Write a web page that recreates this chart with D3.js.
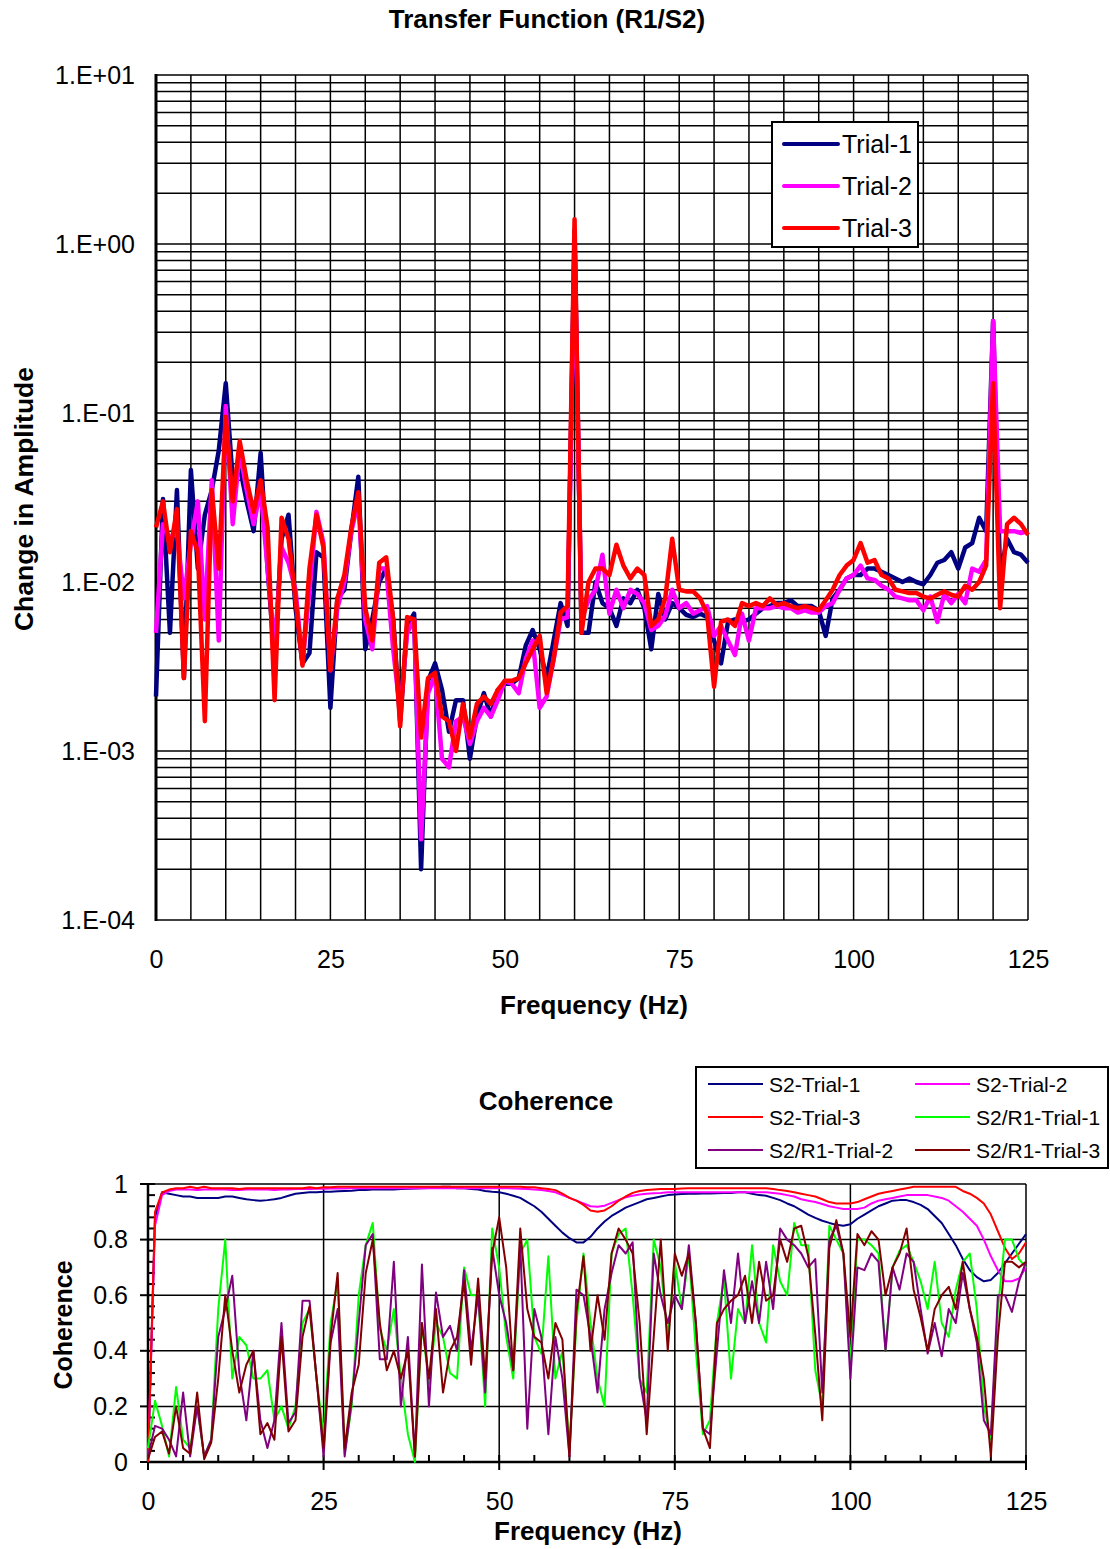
<!DOCTYPE html>
<html>
<head>
<meta charset="utf-8">
<script src="https://cdn.jsdelivr.net/npm/d3@7"></script>
<style>
  body { margin: 0; background: #fff; }
  svg { display: block; font-family: "Liberation Sans", Arial, sans-serif; }
</style>
</head>
<body>
<svg id="vis" width="1110" height="1549"></svg>
<script>
// ---- data: frequency in Hz, one reading per Hz ----
const freq = d3.range(0, 126);

// transfer function R1/S2
const trial1 = [
  0.0021, 0.031, 0.005, 0.035, 0.0027, 0.046, 0.012, 0.025, 0.035, 0.06,
  0.15, 0.04, 0.048, 0.03, 0.02, 0.058, 0.012, 0.0035, 0.018, 0.025,
  0.007, 0.0033, 0.0038, 0.015, 0.014, 0.0018, 0.008, 0.009, 0.02, 0.042,
  0.004, 0.006, 0.01, 0.012, 0.006, 0.0015, 0.0055, 0.0065, 0.0002, 0.0026,
  0.0033, 0.0023, 0.0013, 0.002, 0.002, 0.0009, 0.0016, 0.0022, 0.0016, 0.0023,
  0.0025, 0.0025, 0.0027, 0.0042, 0.0052, 0.004, 0.0027, 0.0045, 0.0075, 0.0055,
  1.2, 0.005, 0.005, 0.01, 0.0075, 0.007, 0.0055, 0.008, 0.0075, 0.009,
  0.007, 0.004, 0.0085, 0.006, 0.0075, 0.007, 0.0064, 0.0062, 0.0065, 0.0062,
  0.0045, 0.0033, 0.0058, 0.006, 0.0058, 0.006, 0.0065, 0.007, 0.0072, 0.0075,
  0.0075, 0.0078, 0.0072, 0.0072, 0.0072, 0.0068, 0.0048, 0.008, 0.009, 0.0105,
  0.011, 0.011, 0.012, 0.012, 0.0115, 0.011, 0.0105, 0.01, 0.0105, 0.01,
  0.0097, 0.011, 0.013, 0.0135, 0.015, 0.012, 0.016, 0.017, 0.024, 0.02,
  0.35, 0.011, 0.018, 0.015, 0.0145, 0.013
];
const trial2 = [
  0.005, 0.022, 0.018, 0.02, 0.008, 0.017, 0.03, 0.006, 0.04, 0.0045,
  0.11, 0.022, 0.06, 0.035, 0.022, 0.035, 0.012, 0.004, 0.016, 0.013,
  0.009, 0.0033, 0.009, 0.026, 0.017, 0.003, 0.007, 0.01, 0.02, 0.03,
  0.006, 0.004, 0.012, 0.012, 0.004, 0.0017, 0.005, 0.006, 0.0003, 0.0022,
  0.0028, 0.0009, 0.0008, 0.0015, 0.0016, 0.0011, 0.0015, 0.0018, 0.0016, 0.002,
  0.0026, 0.0025, 0.0022, 0.0035, 0.0045, 0.0018, 0.0021, 0.0035, 0.006, 0.0062,
  1.0, 0.006, 0.0078, 0.009, 0.0145, 0.0065, 0.009, 0.007, 0.009, 0.0085,
  0.0075, 0.0052, 0.0055, 0.0063, 0.009, 0.007, 0.0075, 0.0065, 0.0068, 0.0072,
  0.0048, 0.0055, 0.0045, 0.0037, 0.0065, 0.0045, 0.007, 0.007, 0.007, 0.0072,
  0.007, 0.007, 0.0066, 0.0068, 0.0066, 0.0066, 0.0072, 0.0075, 0.009, 0.0105,
  0.011, 0.0125, 0.0105, 0.0103, 0.0095, 0.009, 0.0082, 0.008, 0.0078, 0.0078,
  0.0068, 0.0082, 0.0058, 0.0085, 0.0075, 0.0085, 0.0075, 0.012, 0.0115, 0.0135,
  0.35, 0.02, 0.02, 0.02, 0.0195, 0.02
];
const trial3 = [
  0.021, 0.03, 0.015, 0.027, 0.0027, 0.02, 0.015, 0.0015, 0.035, 0.012,
  0.095, 0.03, 0.068, 0.04, 0.026, 0.04, 0.021, 0.002, 0.024, 0.018,
  0.008, 0.0032, 0.012, 0.025, 0.016, 0.003, 0.008, 0.011, 0.021, 0.034,
  0.007, 0.0045, 0.013, 0.014, 0.006, 0.0014, 0.0062, 0.006, 0.0012, 0.0027,
  0.0029, 0.0016, 0.0015, 0.001, 0.0019, 0.0012, 0.0019, 0.0021, 0.0019, 0.0023,
  0.0026, 0.0026, 0.0027, 0.0033, 0.004, 0.0048, 0.0022, 0.0035, 0.0066, 0.0072,
  1.4, 0.005, 0.01, 0.012, 0.012, 0.011, 0.0166, 0.0125, 0.0105, 0.012,
  0.011, 0.0055, 0.006, 0.008, 0.018, 0.009, 0.0088, 0.0088, 0.008, 0.0065,
  0.0024, 0.0058, 0.006, 0.0055, 0.0075, 0.0072, 0.0075, 0.0072, 0.008, 0.0073,
  0.0075, 0.0072, 0.007, 0.0072, 0.007, 0.0068, 0.0078, 0.009, 0.011, 0.0125,
  0.0135, 0.017, 0.013, 0.0135, 0.011, 0.0105, 0.009, 0.0088, 0.0086, 0.0086,
  0.0082, 0.008, 0.0084, 0.0088, 0.0084, 0.0082, 0.0095, 0.009, 0.01, 0.0125,
  0.15, 0.007, 0.022, 0.024, 0.022, 0.019
];

// coherence
const s2Trial1 = [
  0, 0.88, 0.97, 0.965, 0.96, 0.955, 0.955, 0.95, 0.95, 0.95,
  0.95, 0.955, 0.955, 0.95, 0.945, 0.942, 0.94, 0.942, 0.945, 0.95,
  0.958, 0.965, 0.968, 0.97, 0.97, 0.972, 0.972, 0.974, 0.975, 0.976,
  0.978, 0.978, 0.98, 0.98, 0.98, 0.98, 0.982, 0.983, 0.984, 0.985,
  0.986, 0.988, 0.99, 0.99, 0.985, 0.985, 0.982, 0.98, 0.975, 0.972,
  0.97, 0.965, 0.958, 0.95, 0.935, 0.92, 0.9, 0.875, 0.85, 0.825,
  0.805, 0.79, 0.79, 0.81, 0.84, 0.865, 0.885, 0.9, 0.915, 0.925,
  0.935, 0.945, 0.95, 0.955, 0.96, 0.962, 0.964, 0.965, 0.965, 0.966,
  0.966, 0.967, 0.968, 0.968, 0.97, 0.97, 0.965, 0.96, 0.958, 0.95,
  0.942, 0.93, 0.92, 0.905, 0.89, 0.878, 0.868, 0.86, 0.853, 0.85,
  0.855, 0.875, 0.89, 0.905, 0.92, 0.93, 0.94, 0.942, 0.942, 0.935,
  0.925, 0.91, 0.885, 0.86, 0.82, 0.78, 0.73, 0.69, 0.665, 0.65,
  0.655, 0.68, 0.715, 0.75, 0.785, 0.82
];
const s2Trial2 = [
  0, 0.85, 0.96, 0.975, 0.98, 0.98, 0.98, 0.978, 0.98, 0.98,
  0.98, 0.98, 0.978, 0.978, 0.98, 0.98, 0.98, 0.98, 0.978, 0.98,
  0.98, 0.982, 0.982, 0.982, 0.983, 0.983, 0.984, 0.984, 0.984, 0.985,
  0.985, 0.985, 0.985, 0.985, 0.985, 0.985, 0.985, 0.985, 0.985, 0.985,
  0.985, 0.985, 0.985, 0.985, 0.985, 0.985, 0.985, 0.985, 0.985, 0.985,
  0.985, 0.985, 0.984, 0.983, 0.982, 0.98, 0.978, 0.975, 0.97, 0.96,
  0.95, 0.94, 0.93, 0.92, 0.918, 0.922, 0.932, 0.942, 0.952, 0.958,
  0.962, 0.965, 0.967, 0.968, 0.97, 0.97, 0.97, 0.97, 0.97, 0.97,
  0.97, 0.97, 0.97, 0.97, 0.97, 0.97, 0.97, 0.97, 0.97, 0.968,
  0.965, 0.96, 0.955, 0.945, 0.94, 0.935, 0.928, 0.92, 0.915, 0.91,
  0.91, 0.91, 0.915, 0.93, 0.94, 0.945, 0.95, 0.955, 0.96, 0.96,
  0.96, 0.96, 0.955, 0.95, 0.94, 0.92, 0.9, 0.875, 0.85, 0.8,
  0.74, 0.69, 0.65, 0.65, 0.66, 0.7
];
const s2Trial3 = [
  0, 0.9, 0.97, 0.98, 0.985, 0.985, 0.99, 0.985, 0.99, 0.985,
  0.985, 0.985, 0.985, 0.982, 0.985, 0.985, 0.985, 0.985, 0.985, 0.985,
  0.985, 0.985, 0.985, 0.988, 0.985, 0.988, 0.988, 0.99, 0.99, 0.99,
  0.99, 0.99, 0.99, 0.99, 0.99, 0.99, 0.99, 0.99, 0.99, 0.99,
  0.99, 0.99, 0.99, 0.99, 0.99, 0.99, 0.99, 0.99, 0.99, 0.99,
  0.99, 0.99, 0.99, 0.99, 0.988, 0.988, 0.985, 0.982, 0.978, 0.965,
  0.95, 0.94, 0.925, 0.905, 0.9, 0.905, 0.92, 0.94, 0.955, 0.968,
  0.975, 0.978, 0.98, 0.982, 0.982, 0.982, 0.984, 0.985, 0.985, 0.985,
  0.985, 0.985, 0.985, 0.985, 0.985, 0.985, 0.985, 0.985, 0.985, 0.982,
  0.978, 0.975, 0.97, 0.965, 0.96, 0.955, 0.945, 0.935, 0.93, 0.93,
  0.93, 0.935, 0.945, 0.955, 0.965, 0.97, 0.975, 0.98, 0.985, 0.99,
  0.99, 0.99, 0.99, 0.99, 0.99, 0.99, 0.975, 0.965, 0.95, 0.93,
  0.89, 0.83, 0.77, 0.73, 0.75, 0.79
];
const r1Trial1 = [
  0.05, 0.22, 0.13, 0.02, 0.27, 0.08, 0.05, 0.2, 0.02, 0.08,
  0.55, 0.8, 0.3, 0.45, 0.42, 0.3, 0.3, 0.33, 0.15, 0.2,
  0.12, 0.2, 0.5, 0.55, 0.3, 0.1, 0.5, 0.65, 0.03, 0.2,
  0.6, 0.78, 0.86, 0.48, 0.4, 0.55, 0.3, 0.1, 0.0, 0.5,
  0.28, 0.5, 0.45, 0.32, 0.3, 0.7, 0.6, 0.6, 0.2, 0.84,
  0.7, 0.45, 0.3, 0.75, 0.8, 0.45, 0.39, 0.74, 0.3, 0.4,
  0.05, 0.5, 0.75, 0.5, 0.3, 0.2, 0.75, 0.82, 0.84, 0.6,
  0.3, 0.25, 0.8, 0.7, 0.45, 0.72, 0.55, 0.75, 0.4, 0.1,
  0.15, 0.5, 0.66, 0.3, 0.55, 0.5, 0.78, 0.5, 0.43, 0.78,
  0.65, 0.6, 0.86, 0.78, 0.78, 0.33, 0.2, 0.85, 0.8, 0.75,
  0.35, 0.8, 0.8, 0.78, 0.75, 0.4, 0.7, 0.76, 0.78, 0.72,
  0.65, 0.55, 0.72, 0.5, 0.45, 0.62, 0.72, 0.75, 0.55, 0.2,
  0.08, 0.55, 0.8, 0.8, 0.73, 0.7
];
const r1Trial2 = [
  0.02, 0.13, 0.12, 0.08, 0.02, 0.25, 0.02, 0.2, 0.02, 0.08,
  0.45, 0.55, 0.67, 0.32, 0.15, 0.4, 0.15, 0.05, 0.15, 0.5,
  0.14, 0.18, 0.58, 0.58, 0.3, 0.02, 0.43, 0.55, 0.02, 0.22,
  0.5, 0.78, 0.82, 0.37, 0.37, 0.72, 0.2, 0.45, 0.02, 0.71,
  0.2, 0.61, 0.45, 0.49, 0.4, 0.69, 0.4, 0.6, 0.25, 0.77,
  0.6, 0.5, 0.33, 0.78, 0.12, 0.55, 0.45, 0.1, 0.45, 0.3,
  0.02, 0.62, 0.6, 0.45, 0.25, 0.55, 0.68, 0.78, 0.75, 0.79,
  0.3, 0.15, 0.75, 0.6, 0.5, 0.6, 0.55, 0.78, 0.5, 0.12,
  0.1, 0.4, 0.69, 0.5, 0.75, 0.5, 0.65, 0.5, 0.72, 0.55,
  0.84, 0.8, 0.78, 0.75, 0.7, 0.73, 0.25, 0.8, 0.85, 0.75,
  0.3, 0.7, 0.69, 0.75, 0.72, 0.4, 0.7, 0.62, 0.75, 0.72,
  0.55, 0.39, 0.5, 0.38, 0.55, 0.5, 0.68, 0.55, 0.43, 0.15,
  0.1, 0.6, 0.6, 0.54, 0.65, 0.72
];
const r1Trial3 = [
  0.01, 0.09, 0.11, 0.03, 0.2, 0.05, 0.03, 0.25, 0.01, 0.07,
  0.3, 0.6, 0.4, 0.25, 0.35, 0.4, 0.1, 0.14, 0.08, 0.45,
  0.11, 0.15, 0.45, 0.56, 0.3, 0.05, 0.45, 0.68, 0.05, 0.25,
  0.35, 0.68, 0.8, 0.5, 0.33, 0.4, 0.3, 0.4, 0.02, 0.5,
  0.3, 0.55, 0.25, 0.4, 0.45, 0.65, 0.35, 0.66, 0.3, 0.75,
  0.88, 0.7, 0.33, 0.84, 0.55, 0.45, 0.43, 0.3, 0.5, 0.44,
  0.02, 0.54, 0.74, 0.4, 0.6, 0.44, 0.75, 0.84, 0.8, 0.75,
  0.5, 0.1, 0.45, 0.8, 0.4, 0.75, 0.67, 0.75, 0.5, 0.12,
  0.05, 0.5, 0.55, 0.58, 0.6, 0.67, 0.5, 0.72, 0.58, 0.6,
  0.8, 0.72, 0.84, 0.85, 0.74, 0.46, 0.15, 0.77, 0.87, 0.75,
  0.45, 0.82, 0.78, 0.83, 0.8, 0.6, 0.7, 0.75, 0.84, 0.62,
  0.52, 0.4, 0.55, 0.6, 0.63, 0.55, 0.72, 0.55, 0.45, 0.3,
  0.02, 0.45, 0.72, 0.72, 0.7, 0.72
];

const tfNames = ["Trial-1", "Trial-2", "Trial-3"];
const cohNames = ["S2-Trial-1", "S2-Trial-2", "S2-Trial-3", "S2/R1-Trial-1", "S2/R1-Trial-2", "S2/R1-Trial-3"];

const tfColors = ["#000080", "#ff00ff", "#ff0000"];
const cohColors = ["#000080", "#ff00ff", "#ff0000", "#00ff00", "#800080", "#800000"];

const svg = d3.select("#vis");
svg.append("rect").attr("width", 1110).attr("height", 1549).attr("fill", "#fff");

const tickFont = g => g.selectAll("text")
  .attr("font-size", 25)
  .attr("font-family", "Liberation Sans, Arial")
  .attr("fill", "#000");

// ================= transfer function =================
const tf = {left: 156, right: 1028, top: 75, bottom: 920};
const x1 = d3.scaleLinear().domain([0, 125]).range([tf.left, tf.right]);
const y1 = d3.scaleLog().domain([1e-4, 10]).range([tf.bottom, tf.top]);

const g1 = svg.append("g");

g1.append("g").selectAll("line")
  .data(y1.ticks())
  .join("line")
  .attr("x1", tf.left).attr("x2", tf.right)
  .attr("y1", d => y1(d)).attr("y2", d => y1(d))
  .attr("stroke", "#000").attr("stroke-width", 1.5);

g1.append("g").selectAll("line")
  .data(d3.range(0, 126, 5))
  .join("line")
  .attr("x1", d => x1(d)).attr("x2", d => x1(d))
  .attr("y1", tf.top).attr("y2", tf.bottom)
  .attr("stroke", "#000").attr("stroke-width", 1.5);

g1.append("line")
  .attr("x1", tf.left).attr("x2", tf.left)
  .attr("y1", tf.top - 1).attr("y2", tf.bottom + 1)
  .attr("stroke", "#000").attr("stroke-width", 3);

const expLabel = d => {
  const e = Math.round(Math.log10(d));
  return "1.E" + (e < 0 ? "-" : "+") + String(Math.abs(e)).padStart(2, "0");
};

g1.append("g")
  .attr("transform", `translate(${tf.left},0)`)
  .call(d3.axisLeft(y1).tickValues([1e-4, 1e-3, 1e-2, 1e-1, 1, 10]).tickFormat(expLabel).tickSize(0).tickPadding(21))
  .call(g => g.select(".domain").remove())
  .call(tickFont);

g1.append("g")
  .attr("transform", `translate(0,${tf.bottom})`)
  .call(d3.axisBottom(x1).tickValues([0, 25, 50, 75, 100, 125]).tickSize(0).tickPadding(30))
  .call(g => g.select(".domain").remove())
  .call(tickFont);

const tfLine = d3.line()
  .x((d, i) => x1(freq[i]))
  .y(d => y1(d));

g1.append("g").selectAll("path")
  .data([trial1, trial2, trial3])
  .join("path")
  .attr("d", tfLine)
  .attr("fill", "none")
  .attr("stroke", (d, i) => tfColors[i])
  .attr("stroke-width", 4.5)
  .attr("stroke-linejoin", "round");

svg.append("text")
  .attr("x", 547).attr("y", 28)
  .attr("text-anchor", "middle")
  .attr("font-size", 26).attr("font-weight", "bold")
  .text("Transfer Function (R1/S2)");

svg.append("text")
  .attr("transform", "translate(33,499) rotate(-90)")
  .attr("text-anchor", "middle")
  .attr("font-size", 26.5).attr("font-weight", "bold")
  .text("Change in Amplitude");

svg.append("text")
  .attr("x", 594).attr("y", 1014)
  .attr("text-anchor", "middle")
  .attr("font-size", 26).attr("font-weight", "bold")
  .text("Frequency (Hz)");

// legend
const lg1 = svg.append("g");
lg1.append("rect")
  .attr("x", 772).attr("y", 122).attr("width", 146).attr("height", 125)
  .attr("fill", "#fff").attr("stroke", "#000").attr("stroke-width", 2);
tfNames.forEach((name, i) => {
  const yy = 144 + i * 42;
  lg1.append("line")
    .attr("x1", 784).attr("x2", 838).attr("y1", yy).attr("y2", yy)
    .attr("stroke", tfColors[i]).attr("stroke-width", 4).attr("stroke-linecap", "round");
  lg1.append("text")
    .attr("x", 842).attr("y", yy + 9)
    .attr("font-size", 25)
    .text(name);
});

// ================= coherence =================
const ch = {left: 148, right: 1026, top: 1184, bottom: 1462};
const x2 = d3.scaleLinear().domain([0, 125]).range([ch.left, ch.right]);
const y2 = d3.scaleLinear().domain([0, 1]).range([ch.bottom, ch.top]);

const g2 = svg.append("g");

g2.append("g").selectAll("line")
  .data([0.2, 0.4, 0.6, 0.8, 1])
  .join("line")
  .attr("x1", ch.left).attr("x2", ch.right)
  .attr("y1", d => y2(d)).attr("y2", d => y2(d))
  .attr("stroke", "#000").attr("stroke-width", 1.5);

g2.append("g").selectAll("line")
  .data([25, 50, 75, 100, 125])
  .join("line")
  .attr("x1", d => x2(d)).attr("x2", d => x2(d))
  .attr("y1", ch.top).attr("y2", ch.bottom)
  .attr("stroke", "#000").attr("stroke-width", 1.5);

// minor ticks
g2.append("g").selectAll("line")
  .data(d3.range(0, 1.001, 0.04))
  .join("line")
  .attr("x1", ch.left).attr("x2", ch.left + 7)
  .attr("y1", d => y2(d)).attr("y2", d => y2(d))
  .attr("stroke", "#000").attr("stroke-width", 2);
g2.append("g").selectAll("line")
  .data([0, 0.2, 0.4, 0.6, 0.8, 1])
  .join("line")
  .attr("x1", ch.left - 8).attr("x2", ch.left)
  .attr("y1", d => y2(d)).attr("y2", d => y2(d))
  .attr("stroke", "#000").attr("stroke-width", 2);
g2.append("g").selectAll("line")
  .data(d3.range(0, 126, 5))
  .join("line")
  .attr("x1", d => x2(d)).attr("x2", d => x2(d))
  .attr("y1", ch.bottom - 7).attr("y2", d => ch.bottom + (d % 25 === 0 ? 8 : 0))
  .attr("stroke", "#000").attr("stroke-width", 2);

g2.append("line")
  .attr("x1", ch.left).attr("x2", ch.left)
  .attr("y1", ch.top - 1).attr("y2", ch.bottom + 1)
  .attr("stroke", "#000").attr("stroke-width", 2.5);
g2.append("line")
  .attr("x1", ch.left - 1).attr("x2", ch.right + 1)
  .attr("y1", ch.bottom).attr("y2", ch.bottom)
  .attr("stroke", "#000").attr("stroke-width", 2.5);

g2.append("g")
  .attr("transform", `translate(${ch.left},0)`)
  .call(d3.axisLeft(y2).tickValues([0, 0.2, 0.4, 0.6, 0.8, 1]).tickFormat(d3.format("~g")).tickSize(0).tickPadding(20))
  .call(g => g.select(".domain").remove())
  .call(tickFont);

g2.append("g")
  .attr("transform", `translate(0,${ch.bottom})`)
  .call(d3.axisBottom(x2).tickValues([0, 25, 50, 75, 100, 125]).tickSize(0).tickPadding(30))
  .call(g => g.select(".domain").remove())
  .call(tickFont);

const cohLine = d3.line()
  .x((d, i) => x2(freq[i]))
  .y(d => y2(d));

g2.append("g").selectAll("path")
  .data([s2Trial1, s2Trial2, s2Trial3, r1Trial1, r1Trial2, r1Trial3])
  .join("path")
  .attr("d", cohLine)
  .attr("fill", "none")
  .attr("stroke", (d, i) => cohColors[i])
  .attr("stroke-width", 2)
  .attr("stroke-linejoin", "round");

svg.append("text")
  .attr("x", 546).attr("y", 1110)
  .attr("text-anchor", "middle")
  .attr("font-size", 26).attr("font-weight", "bold")
  .text("Coherence");

svg.append("text")
  .attr("transform", "translate(72,1325) rotate(-90)")
  .attr("text-anchor", "middle")
  .attr("font-size", 25).attr("font-weight", "bold")
  .text("Coherence");

svg.append("text")
  .attr("x", 588).attr("y", 1540)
  .attr("text-anchor", "middle")
  .attr("font-size", 26).attr("font-weight", "bold")
  .text("Frequency (Hz)");

const lg2 = svg.append("g");
lg2.append("rect")
  .attr("x", 696).attr("y", 1067).attr("width", 412).attr("height", 101)
  .attr("fill", "#fff").attr("stroke", "#000").attr("stroke-width", 2);
cohNames.forEach((name, i) => {
  const col = i % 2, row = Math.floor(i / 2);
  const lx = col ? 915 : 708;
  const yy = 1084 + row * 33;
  lg2.append("line")
    .attr("x1", lx).attr("x2", lx + 55).attr("y1", yy).attr("y2", yy)
    .attr("stroke", cohColors[i]).attr("stroke-width", 2);
  lg2.append("text")
    .attr("x", lx + 61).attr("y", yy + 8)
    .attr("font-size", 21)
    .text(name);
});
</script>
</body>
</html>
